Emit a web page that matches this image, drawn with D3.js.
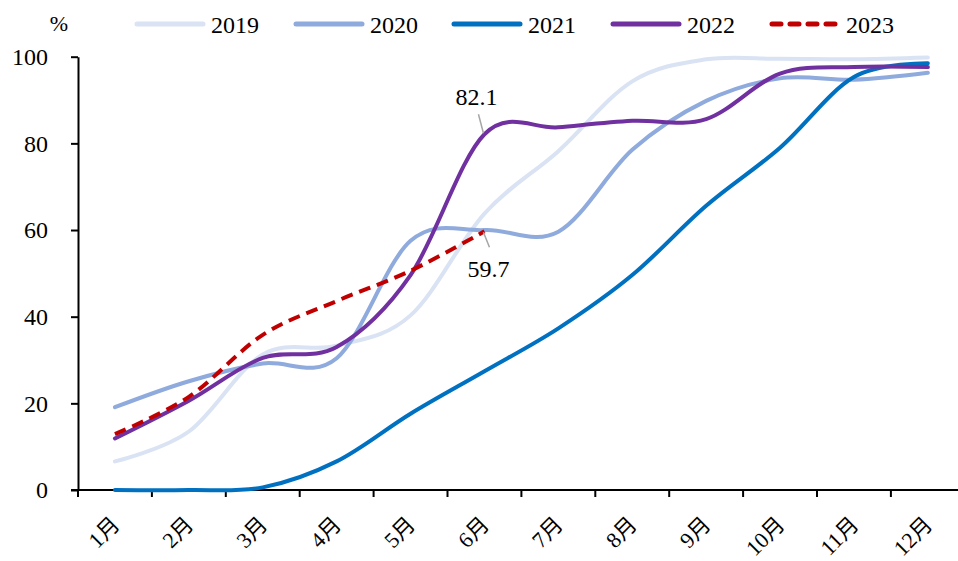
<!DOCTYPE html>
<html>
<head>
<meta charset="utf-8">
<script src="https://cdn.jsdelivr.net/npm/d3@7"></script>
<style>
  body { margin: 0; background: #fff; }
</style>
</head>
<body>
<svg width="958" height="561" font-family="'Times New Roman', 'Liberation Serif', 'Noto Sans CJK SC', serif"></svg>
<script>
// data
var months = ["1月", "2月", "3月", "4月", "5月", "6月", "7月", "8月", "9月", "10月", "11月", "12月"];
var years = ["2019", "2020", "2021", "2022", "2023"];
var v2019 = [6.6, 13.5, 31.3, 33.3, 40.3, 63.8, 78.2, 94.3, 99.4, 99.5, 99.4, 99.8];
var v2020 = [19.1, 25.1, 29.2, 30.4, 57.5, 60.0, 59.6, 78.5, 89.8, 95.0, 94.7, 96.3];
var v2021 = [0, 0, 0.6, 6.6, 17.6, 27.4, 37.3, 49.6, 65.6, 79.0, 95.3, 98.5];
var v2022 = [11.9, 20.6, 30.5, 33.0, 49.6, 82.1, 83.7, 85.2, 85.6, 96.1, 97.6, 97.6];
var v2023 = [12.9, 21.5, 35.8, 43.6, 50.6, 59.7];
var yTicks = [0, 20, 40, 60, 80, 100];

var colors = ["#dae3f3", "#8faadc", "#0070c0", "#7030a0", "#c00000"];
var seriesValues = [v2019, v2020, v2021, v2022, v2023];

var svg = d3.select("svg");
var margin = { left: 78, top: 56.7 };
var bandW = 73.9;
var bottom = 490;

var x = d3.scaleBand()
  .domain(months)
  .range([margin.left, margin.left + bandW * months.length])
  .padding(0);

var y = d3.scaleLinear()
  .domain([0, 100])
  .range([bottom, margin.top]);

// x axis: ticks sit on band edges
var xAxis = svg.append("g")
  .attr("transform", `translate(0, ${bottom})`)
  .call(d3.axisBottom(x).tickSize(7).tickSizeOuter(0))
  .attr("font-family", null);
xAxis.select(".domain").attr("stroke", "#000").attr("stroke-width", 2)
  .attr("d", `M${margin.left - 7},0H${margin.left + bandW * months.length}`);
xAxis.selectAll(".tick line")
  .attr("x1", -bandW / 2).attr("x2", -bandW / 2)
  .attr("stroke", "#000").attr("stroke-width", 2);
xAxis.selectAll(".tick text")
  .attr("font-size", 22)
  .attr("fill", "#000")
  .attr("text-anchor", "end")
  .attr("dy", 0)
  .attr("y", 0)
  .attr("transform", "translate(6, 36) rotate(-45)");

// y axis
var yAxis = svg.append("g")
  .attr("transform", `translate(${margin.left}, 0)`)
  .call(d3.axisLeft(y).tickValues(yTicks).tickSize(7).tickSizeOuter(0).tickPadding(23))
  .attr("font-family", null);
yAxis.select(".domain").attr("stroke", "#000").attr("stroke-width", 2);
yAxis.selectAll(".tick line").attr("stroke", "#000").attr("stroke-width", 2);
yAxis.selectAll(".tick text").attr("font-size", 24).attr("fill", "#000");

svg.append("text")
  .attr("x", 59).attr("y", 31)
  .attr("text-anchor", "middle")
  .attr("font-size", 22)
  .text("%");

// lines
var line = d3.line()
  .x((d, i) => x(months[i]) + x.bandwidth() / 2)
  .y((d) => y(d))
  .curve(d3.curveCatmullRom.alpha(0));

svg.selectAll(".series")
  .data(seriesValues)
  .enter()
  .append("path")
  .attr("class", "series")
  .attr("d", (d) => line(d))
  .attr("fill", "none")
  .attr("stroke", (d, i) => colors[i])
  .attr("stroke-width", 4)
  .attr("stroke-linecap", (d, i) => (i === 4 ? "butt" : "round"))
  .attr("stroke-dasharray", (d, i) => (i === 4 ? "12,7" : null));

// labels on the 6月 points
var px = x("6月") + x.bandwidth() / 2;
svg.append("line")
  .attr("x1", px - 6).attr("y1", y(82.1) - 20)
  .attr("x2", px - 1).attr("y2", y(82.1) - 1)
  .attr("stroke", "#a6a6a6").attr("stroke-width", 1.5);
svg.append("text")
  .attr("x", px - 8).attr("y", y(82.1) - 29)
  .attr("text-anchor", "middle")
  .attr("font-size", 24)
  .text("82.1");

svg.append("line")
  .attr("x1", px - 1).attr("y1", y(59.7) + 1)
  .attr("x2", px + 5).attr("y2", y(59.7) + 16)
  .attr("stroke", "#a6a6a6").attr("stroke-width", 1.5);
svg.append("text")
  .attr("x", px + 4).attr("y", y(59.7) + 46)
  .attr("text-anchor", "middle")
  .attr("font-size", 24)
  .text("59.7");

// legend
var legendX = [135, 294, 452, 611, 770];
var legend = svg.selectAll(".legend")
  .data(years)
  .enter()
  .append("g")
  .attr("class", "legend")
  .attr("transform", (d, i) => `translate(${legendX[i]}, 24)`);

legend.append("line")
  .attr("x1", 2).attr("x2", 68)
  .attr("y1", 0).attr("y2", 0)
  .attr("stroke", (d, i) => colors[i])
  .attr("stroke-width", 5)
  .attr("stroke-linecap", "round")
  .attr("stroke-dasharray", (d, i) => (i === 4 ? "9,9" : null));

legend.append("text")
  .attr("x", 76).attr("y", 9)
  .attr("font-size", 24)
  .text((d) => d);
</script>
</body>
</html>
